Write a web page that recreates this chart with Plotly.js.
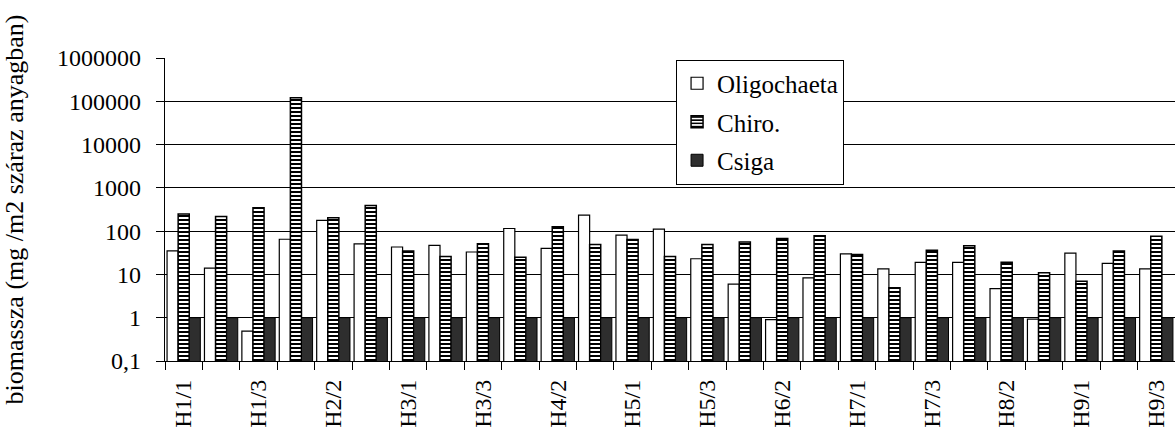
<!DOCTYPE html>
<html>
<head>
<meta charset="utf-8">
<script src="https://cdn.plot.ly/plotly-3.0.1.min.js"></script>
<style>html,body{margin:0;padding:0;background:#fff;}#chart{width:1175px;height:437px;}</style>
</head>
<body>
<div id="chart"></div>
<script>
var categories = ['H1/1','H1/2','H1/3','H2/1','H2/2','H2/3','H3/1','H3/2','H3/3',
                  'H4/1','H4/2','H4/3','H5/1','H5/2','H5/3','H6/1','H6/2','H6/3',
                  'H7/1','H7/2','H7/3','H8/1','H8/2','H8/3','H9/1','H9/2','H9/3'];
var oligochaeta = [35, 14, 0.49, 65, 177, 51, 43, 47, 33,
                   115, 40, 235, 81, 111, 23, 6, 0.9, 8.3,
                   30, 13.5, 19, 19, 4.7, 0.93, 31, 18, 13.5];
var chiro = [250, 218, 345, 120000, 203, 390, 35, 26, 51,
             25, 126, 49, 64, 26, 49, 56, 68, 78,
             29, 4.9, 36, 46, 19, 11, 7, 35, 76];
var csiga = [1, 1, 1, 1, 1, 1, 1, 1, 1,
             1, 1, 1, 1, 1, 1, 1, 1, 1,
             1, 1, 1, 1, 1, 1, 1, 1, 1];
var yTickVals = [0.1, 1, 10, 100, 1000, 10000, 100000, 1000000];
var yTickText = ['0,1', '1', '10', '100', '1000', '10000', '100000', '1000000'];
var xTickText = categories.map(function (c, i) { return i % 2 === 0 ? c : ''; });

var FONT = '"Liberation Serif", "Times New Roman", serif';

var traces = [
  {type: 'bar', name: 'Oligochaeta', x: categories, y: oligochaeta, legendgroup: 'a',
   marker: {color: '#ffffff', line: {color: '#000', width: 1.2}}},
  {type: 'bar', name: 'Chiro.', x: categories, y: chiro, legendgroup: 'b',
   marker: {color: '#ffffff', line: {color: '#000', width: 1.5},
            pattern: {shape: '-', fgcolor: '#000', bgcolor: '#fff', size: 4, solidity: 0.5}}},
  {type: 'bar', name: 'Csiga', x: categories, y: csiga, legendgroup: 'c',
   marker: {color: '#2e2e2e', line: {color: '#000', width: 1}}}
];

var layout = {
  width: 1175, height: 437,
  margin: {l: 165, r: 0, t: 58, b: 76},
  paper_bgcolor: '#fff', plot_bgcolor: '#fff',
  font: {family: FONT, color: '#000', size: 23},
  barmode: 'group', bargap: 0.11, bargroupgap: 0,
  showlegend: true,
  legend: {x: 0.506, y: 0.995, xanchor: 'left', yanchor: 'top',
           bordercolor: '#000', borderwidth: 1, bgcolor: '#fff',
           font: {family: FONT, size: 25, color: '#000'},
           traceorder: 'grouped', tracegroupgap: 3},
  xaxis: {type: 'category', tickmode: 'array', tickvals: categories, ticktext: xTickText,
          tickson: 'boundaries', ticks: 'outside', ticklen: 8, tickcolor: '#000', tickwidth: 1,
          tickangle: -90, ticklabelstandoff: 8, tickfont: {family: FONT, size: 24, color: '#000'},
          showline: true, linecolor: '#000', linewidth: 1.2, showgrid: false, zeroline: false,
          automargin: false},
  yaxis: {type: 'log', range: [-1, 6], tickmode: 'array', tickvals: yTickVals, ticktext: yTickText,
          ticks: 'outside', ticklen: 8, tickcolor: '#000', tickwidth: 1, ticklabelstandoff: 10,
          tickfont: {family: FONT, size: 24, color: '#000'},
          showline: true, linecolor: '#000', linewidth: 1.2,
          showgrid: true, gridcolor: '#000', gridwidth: 1, zeroline: false, automargin: false,
          title: {text: 'biomassza (mg /m2 száraz anyagban)', font: {family: FONT, size: 26, color: '#000'}, standoff: 28}}
};

Plotly.newPlot('chart', traces, layout, {staticPlot: true, displayModeBar: false});
</script>
</body>
</html>
